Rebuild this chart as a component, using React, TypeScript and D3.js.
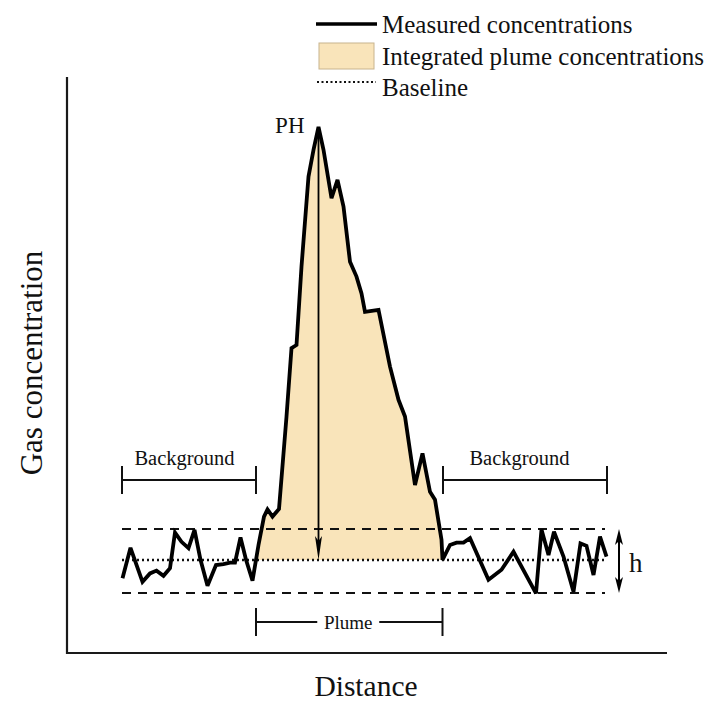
import React from 'react'
import * as d3 from 'd3'

// measured concentration trace (distance, concentration)
const distance = [
  11.1, 12.7, 15.1, 16.6, 17.9, 19.3, 20.6, 21.6, 22.9, 24.3, 25.5, 26.7, 28.1, 29.8, 31.3, 32.6, 33.6,
  34.7, 35.8, 37.1,
  38.3, 39.4, 40.1, 41.1, 42.4, 43.9, 44.9, 45.9, 46.9, 48.3, 49.3, 50.3, 51.3, 52.9, 54.1, 55.3, 56.6,
  57.9, 58.9, 59.6, 62.3, 64.6, 66.3, 67.6, 69.6, 71.1, 72.6, 73.6, 74.9, 75.1,
  76.6, 77.9, 79.3, 80.6, 84.3, 86.9, 89.3, 93.8, 94.9, 96.3, 97.4, 99.3, 101.3, 102.7, 103.9, 105.3,
  106.6, 107.9,
]
const concentration = [
  18.7, 26.3, 17.8, 19.9, 20.6, 19.3, 21.2, 30.1, 27.8, 26.2, 30.8, 23.3, 16.8, 22.0, 22.2, 22.6, 22.6,
  28.9, 23.3, 18.1,
  27.0, 34.1, 35.9, 34.1, 36.0, 59.1, 76.2, 77.0, 96.6, 119.1, 125.8, 131.5, 125.8, 113.7, 118.3, 111.6, 97.8,
  94.1, 89.9, 85.3, 85.8, 71.6, 63.3, 59.1, 42.0, 49.9, 40.3, 38.3, 28.3, 23.3,
  27.0, 27.6, 27.6, 28.7, 18.3, 20.8, 25.3, 14.9, 30.9, 24.5, 30.3, 24.1, 15.3, 27.4, 26.8, 19.5,
  29.1, 24.1,
]

const baseline = 23.25
const bandLevels = [15, 31]
const traceExtent = [11, 108]
const plumeRange = [37.8, 75.1]
const backgroundRanges = [[11, 37.8], [75.2, 108]]
const backgroundLabelAt = [23.5, 90.5]
const bracketLevel = 43.25
const plumeBracketLevel = 7.75
const hArrowAt = 110.4

const W = 705
const H = 704
const FONT = '"Liberation Serif", "Times New Roman", serif'
const FILL = '#F9E4BA'

const x = d3.scaleLinear().domain([0, 120]).range([67, 667])
const y = d3.scaleLinear().domain([0, 144]).range([653, 77])

const points: [number, number][] = distance.map((d, i) => [d, concentration[i]])
const peakIdx = concentration.indexOf(d3.max(concentration) as number)
const peak = points[peakIdx]

const line = d3.line<[number, number]>().x(d => x(d[0])).y(d => y(d[1]))
const area = d3
  .area<[number, number]>()
  .x(d => x(d[0]))
  .y0(y(baseline))
  .y1(d => y(d[1]))

const Bracket: React.FC<{ x0: number; x1: number; yy: number; half: number }> = ({ x0, x1, yy, half }) => (
  <g stroke="#111" strokeWidth={2}>
    <line x1={x0} x2={x1} y1={yy} y2={yy} />
    <line x1={x0} x2={x0} y1={yy - half} y2={yy + half} />
    <line x1={x1} x2={x1} y1={yy - half} y2={yy + half} />
  </g>
)

export default function App() {
  const by = y(baseline)
  const px = x(peak[0])
  const hx = x(hArrowAt)
  const hTop = y(bandLevels[1])
  const hBot = y(bandLevels[0])
  const pb0 = x(plumeRange[0])
  const pb1 = x(plumeRange[1])
  const pby = y(plumeBracketLevel)
  const pmid = (pb0 + pb1) / 2

  return (
    <svg
      width={W}
      height={H}
      style={{ position: 'absolute', left: 0, top: 0, background: '#fff' }}
      fontFamily={FONT}
    >
      <defs>
        <clipPath id="plume-clip">
          <rect x={pb0} y={0} width={pb1 - pb0} height={by} />
        </clipPath>
      </defs>

      {/* axes */}
      <g stroke="#1a1a1a" strokeWidth={2.2}>
        <line x1={x(0)} x2={x(0)} y1={y(144)} y2={y(0) + 1} />
        <line x1={x(0)} x2={x(120)} y1={y(0)} y2={y(0)} />
      </g>
      <text x={(x(0) + x(120)) / 2 - 1} y={696} fontSize={29.5} textAnchor="middle" fill="#111">
        Distance
      </text>
      <text
        transform={`translate(42,${363}) rotate(-90)`}
        fontSize={31}
        textAnchor="middle"
        fill="#111"
      >
        Gas concentration
      </text>

      {/* plume fill */}
      <path d={area(points) || ''} fill={FILL} clipPath="url(#plume-clip)" />

      {/* band */}
      {bandLevels.map(l => (
        <line
          key={l}
          x1={x(traceExtent[0])}
          x2={x(traceExtent[1]) - 2}
          y1={y(l)}
          y2={y(l)}
          stroke="#111"
          strokeWidth={2}
          strokeDasharray="9 7"
        />
      ))}
      <line
        x1={x(traceExtent[0])}
        x2={x(traceExtent[1])}
        y1={by}
        y2={by}
        stroke="#111"
        strokeWidth={2.4}
        strokeDasharray="2 3"
      />

      {/* measured trace */}
      <path d={line(points) || ''} fill="none" stroke="#000" strokeWidth={3.8} strokeLinejoin="miter" strokeMiterlimit={3} />

      {/* peak height arrow */}
      <line x1={px} x2={px} y1={y(peak[1])} y2={by - 18} stroke="#000" strokeWidth={1.8} />
      <path d={`M${px - 3.5},${by - 24} L${px},${by} L${px + 3.5},${by - 24} L${px},${by - 19} Z`} fill="#000" />
      <text x={px - 14} y={y(peak[1]) + 6} fontSize={23} textAnchor="end" fill="#111">
        PH
      </text>

      {/* h arrow */}
      <line x1={hx} x2={hx} y1={hTop + 6} y2={hBot - 6} stroke="#000" strokeWidth={2} />
      <path d={`M${hx - 4},${hTop + 16} L${hx},${hTop} L${hx + 4},${hTop + 16} L${hx},${hTop + 12} Z`} fill="#000" />
      <path d={`M${hx - 4},${hBot - 16} L${hx},${hBot} L${hx + 4},${hBot - 16} L${hx},${hBot - 12} Z`} fill="#000" />
      <text x={hx + 10} y={572} fontSize={27} fill="#111">
        h
      </text>

      {/* background brackets */}
      {backgroundRanges.map((r, i) => (
        <g key={i}>
          <Bracket x0={x(r[0])} x1={x(r[1])} yy={y(bracketLevel)} half={14} />
          <text x={x(backgroundLabelAt[i])} y={y(bracketLevel) - 15} fontSize={20.5} textAnchor="middle" fill="#111">
            Background
          </text>
        </g>
      ))}

      {/* plume bracket */}
      <g stroke="#111" strokeWidth={2}>
        <line x1={pb0} x2={pmid - 32} y1={pby} y2={pby} />
        <line x1={pmid + 30} x2={pb1} y1={pby} y2={pby} />
        <line x1={pb0} x2={pb0} y1={pby - 14} y2={pby + 14} />
        <line x1={pb1} x2={pb1} y1={pby - 14} y2={pby + 14} />
      </g>
      <text x={pmid - 1} y={pby + 7} fontSize={19} textAnchor="middle" fill="#111">
        Plume
      </text>

      {/* legend */}
      <g>
        <line x1={316} x2={377} y1={24} y2={24} stroke="#000" strokeWidth={3.5} />
        <text x={382} y={33} fontSize={25} fill="#111">
          Measured concentrations
        </text>
        <rect x={319} y={43} width={55} height={26} fill={FILL} stroke="#C8B48E" strokeWidth={1} />
        <text x={382} y={65} fontSize={25} fill="#111">
          Integrated plume concentrations
        </text>
        <line x1={317} x2={376} y1={82} y2={82} stroke="#111" strokeWidth={2} strokeDasharray="2 2.5" />
        <text x={382} y={96} fontSize={25} fill="#111">
          Baseline
        </text>
      </g>
    </svg>
  )
}
